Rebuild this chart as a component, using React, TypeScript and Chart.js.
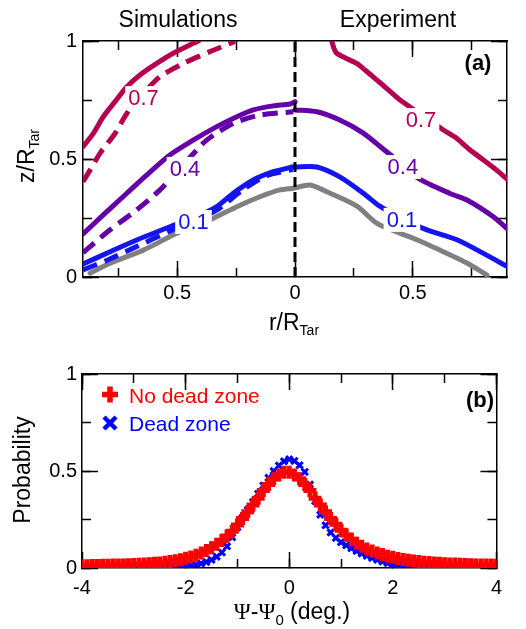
import React, { useEffect, useRef } from 'react';
import { Chart, registerables } from 'chart.js';

Chart.register(...registerables);

const FONT = '"Liberation Sans", Arial, Helvetica, sans-serif';
const SERIF = '"Liberation Serif", "Times New Roman", serif';

// ---------------- Panel (a): iso-contours, r/R_Tar (negative = simulations side) ----------------
type Pt = [number, number];

const sim07Solid: Pt[] = [[-0.9, 0.552], [-0.856, 0.609], [-0.814, 0.679], [-0.764, 0.743], [-0.714, 0.806], [-0.658, 0.856], [-0.587, 0.905], [-0.517, 0.948], [-0.432, 0.99], [-0.41, 1.0]];
const sim07Dashed: Pt[] = [[-0.9, 0.404], [-0.87, 0.453], [-0.828, 0.524], [-0.764, 0.608], [-0.714, 0.693], [-0.644, 0.778], [-0.573, 0.849], [-0.474, 0.905], [-0.361, 0.955], [-0.255, 0.998]];
const sim04Solid: Pt[] = [[-0.9, 0.182], [-0.814, 0.263], [-0.714, 0.355], [-0.63, 0.432], [-0.531, 0.517], [-0.432, 0.58], [-0.332, 0.637], [-0.247, 0.679], [-0.177, 0.708], [-0.092, 0.725], [-0.021, 0.733], [0, 0.743]];
const sim04Dashed: Pt[] = [[-0.9, 0.103], [-0.785, 0.2], [-0.672, 0.284], [-0.573, 0.369], [-0.47, 0.48], [-0.375, 0.58], [-0.262, 0.651], [-0.149, 0.686], [-0.007, 0.7]];
const sim01Solid: Pt[] = [[-0.9, 0.055], [-0.785, 0.107], [-0.672, 0.157], [-0.531, 0.213], [-0.42, 0.255], [-0.332, 0.298], [-0.262, 0.355], [-0.177, 0.411], [-0.092, 0.446], [-0.007, 0.467]];
const sim01Dashed: Pt[] = [[-0.9, 0.03], [-0.8, 0.07], [-0.67, 0.13], [-0.53, 0.195], [-0.4, 0.25], [-0.33, 0.285], [-0.22, 0.37], [-0.12, 0.43], [-0.01, 0.455]];
const simBase: Pt[] = [[-0.87, 0.016], [-0.785, 0.058], [-0.644, 0.114], [-0.502, 0.185], [-0.361, 0.242], [-0.247, 0.298], [-0.149, 0.34], [-0.064, 0.369], [-0.007, 0.376]];

const exp07: Pt[] = [[0.156, 1.0], [0.165, 0.97], [0.177, 0.948], [0.22, 0.925], [0.262, 0.905], [0.3, 0.875], [0.347, 0.835], [0.4, 0.79], [0.446, 0.75], [0.54, 0.685], [0.63, 0.623], [0.686, 0.588], [0.743, 0.538], [0.8, 0.496], [0.856, 0.453], [0.9, 0.415]];
const exp04: Pt[] = [[0.0, 0.708], [0.093, 0.7], [0.19, 0.665], [0.29, 0.61], [0.365, 0.55], [0.44, 0.49], [0.524, 0.418], [0.658, 0.354], [0.73, 0.326], [0.842, 0.255], [0.9, 0.205]];
const exp01: Pt[] = [[0.0, 0.466], [0.093, 0.466], [0.19, 0.424], [0.29, 0.355], [0.36, 0.3], [0.46, 0.245], [0.56, 0.2], [0.69, 0.157], [0.8, 0.1], [0.9, 0.045]];
const expBase: Pt[] = [[0.0, 0.378], [0.064, 0.39], [0.149, 0.355], [0.263, 0.3], [0.348, 0.227], [0.445, 0.186], [0.52, 0.157], [0.615, 0.114], [0.73, 0.059], [0.815, 0.008]];

const centerLine: Pt[] = [[0, 0], [0, 1]];

const levelTexts = ['0.7', '0.4', '0.1', '0.7', '0.4', '0.1'];
const levelAnchorR = [-0.643, -0.467, -0.431, 0.535, 0.458, 0.454];
const levelAnchorZ = [0.758, 0.458, 0.233, 0.665, 0.466, 0.242];

// ---------------- Panel (b): probability distributions ----------------
const psi = [
  -4.0, -3.9, -3.8, -3.7, -3.6, -3.5, -3.4, -3.3, -3.2, -3.1,
  -3.0, -2.9, -2.8, -2.7, -2.6, -2.5, -2.4, -2.3, -2.2, -2.1,
  -2.0, -1.9, -1.8, -1.7, -1.6, -1.5, -1.4, -1.3, -1.2, -1.1,
  -1.0, -0.9, -0.8, -0.7, -0.6, -0.5, -0.4, -0.3, -0.2, -0.1,
  0.0, 0.1, 0.2, 0.3, 0.4, 0.5, 0.6, 0.7, 0.8, 0.9,
  1.0, 1.1, 1.2, 1.3, 1.4, 1.5, 1.6, 1.7, 1.8, 1.9,
  2.0, 2.1, 2.2, 2.3, 2.4, 2.5, 2.6, 2.7, 2.8, 2.9,
  3.0, 3.1, 3.2, 3.3, 3.4, 3.5, 3.6, 3.7, 3.8, 3.9, 4.0,
];
const noDeadZone = [
  0.012, 0.012, 0.013, 0.013, 0.014, 0.014, 0.015, 0.015, 0.016, 0.017,
  0.018, 0.019, 0.020, 0.022, 0.024, 0.026, 0.029, 0.033, 0.038, 0.043,
  0.050, 0.057, 0.066, 0.077, 0.090, 0.105, 0.122, 0.142, 0.165, 0.190,
  0.222, 0.255, 0.290, 0.325, 0.360, 0.400, 0.430, 0.460, 0.480, 0.494,
  0.494, 0.480, 0.460, 0.430, 0.400, 0.360, 0.325, 0.290, 0.255, 0.225,
  0.195, 0.170, 0.148, 0.128, 0.112, 0.098, 0.087, 0.077, 0.069, 0.061,
  0.055, 0.049, 0.044, 0.040, 0.036, 0.033, 0.030, 0.028, 0.026, 0.024,
  0.022, 0.021, 0.020, 0.019, 0.018, 0.017, 0.016, 0.016, 0.015, 0.015, 0.014,
];
const deadZone = [
  0, 0, 0, 0, 0, 0, 0, 0, 0, 0,
  0, 0, 0, 0, 0, 0, 0, 0.001, 0.003, 0.005,
  0.008, 0.012, 0.017, 0.023, 0.031, 0.042, 0.058, 0.080, 0.112, 0.158,
  0.210, 0.260, 0.300, 0.340, 0.383, 0.425, 0.465, 0.500, 0.528, 0.550,
  0.560, 0.552, 0.530, 0.495, 0.430, 0.345, 0.275, 0.220, 0.183, 0.155,
  0.133, 0.117, 0.102, 0.088, 0.075, 0.063, 0.052, 0.042, 0.033, 0.025,
  0.018, 0.012, 0.007, 0.003, 0, 0, 0, 0, 0, 0,
  0, 0, 0, 0, 0, 0, 0, 0, 0, 0, 0,
];
const legendTexts = ['No dead zone', 'Dead zone'];

const C07 = '#b5004f';
const C04 = '#6400a6';
const C01 = '#1414ee';
const CBASE = '#808080';
const RED = '#ff0000';
const BLUE = '#0000ff';

type Seg = { t: string; font: string; dy?: number };
function drawSegs(ctx: CanvasRenderingContext2D, segs: Seg[], x: number, y: number, rotate: boolean, color = '#000') {
  ctx.save();
  ctx.translate(x, y);
  if (rotate) ctx.rotate(-Math.PI / 2);
  let total = 0;
  for (const s of segs) {
    ctx.font = s.font;
    total += ctx.measureText(s.t).width;
  }
  let cx = -total / 2;
  ctx.textAlign = 'left';
  ctx.textBaseline = 'alphabetic';
  ctx.fillStyle = color;
  for (const s of segs) {
    ctx.font = s.font;
    ctx.fillText(s.t, cx, s.dy || 0);
    cx += ctx.measureText(s.t).width;
  }
  ctx.restore();
}

// main axes carry labels and own the outer space; minor axes are zero-sized, sitting on the frame
function makeAxes(xMin: number, xMax: number, xMajor: number, xMinor: number, xFmt: (v: number) => string,
  yMin: number, yMax: number, yMajor: number, yMinor: number, yFmt: (v: number) => string,
  xPad: number, yPad: number, xBoxH: number, yBoxW: number) {
  const base = (pos: string, min: number, max: number, step: number, len: number, main: boolean,
    fmt: ((v: number) => string) | null, pad: number, size: number) => ({
    type: 'linear',
    position: pos,
    min,
    max,
    weight: size > 0 ? 1 : 0,
    afterFit: (s: any) => {
      if (pos === 'left' || pos === 'right') s.width = size;
      else s.height = size;
    },
    border: { display: main, color: '#000', width: 1.5 },
    grid: { display: true, drawOnChartArea: false, drawTicks: true, tickLength: -len, tickWidth: 1.5, tickColor: '#000' },
    ticks: {
      display: !!fmt,
      stepSize: step,
      includeBounds: false,
      autoSkip: false,
      maxRotation: 0,
      minRotation: 0,
      color: '#000',
      font: { family: FONT, size: 20 },
      padding: pad,
      callback: (v: any) => (fmt ? fmt(Number(v)) : ''),
    },
  });
  return {
    x: base('bottom', xMin, xMax, xMajor, 16, true, xFmt, xPad, xBoxH),
    xMinor: base('bottom', xMin, xMax, xMinor, 9, false, null, 0, 0),
    xTop: base('top', xMin, xMax, xMajor, 16, true, null, 0, 0),
    xTopMinor: base('top', xMin, xMax, xMinor, 9, false, null, 0, 0),
    y: base('left', yMin, yMax, yMajor, 16, true, yFmt, yPad, yBoxW),
    yMinor: base('left', yMin, yMax, yMinor, 9, false, null, 0, 0),
    yRight: base('right', yMin, yMax, yMajor, 16, true, null, 0, 0),
    yRightMinor: base('right', yMin, yMax, yMinor, 9, false, null, 0, 0),
  };
}

const fmtNum = (v: number) => {
  const r = Math.round(v * 100) / 100;
  return String(r);
};

export default function App() {
  const refA = useRef<HTMLCanvasElement>(null);
  const refB = useRef<HTMLCanvasElement>(null);

  useEffect(() => {
    const toXY = (pts: Pt[]) => pts.map(([x, y]) => ({ x, y }));
    const line = (pts: Pt[], color: string, dashed: boolean, width = 5) => ({
      data: toXY(pts),
      showLine: true,
      borderColor: color,
      backgroundColor: color,
      borderWidth: width,
      pointRadius: 0,
      pointHoverRadius: 0,
      borderDash: dashed ? [15, 8] : [],
      tension: 0.25,
      borderCapStyle: dashed ? 'butt' : 'round',
      borderJoinStyle: 'round',
      fill: false,
    });

    const pluginA = {
      id: 'panelA',
      afterDatasetsDraw(chart: any) {
        const ctx: CanvasRenderingContext2D = chart.ctx;
        const xs = chart.scales.x;
        const ys = chart.scales.y;
        const colors = [C07, C04, C01, C07, C04, C01];
        ctx.save();
        ctx.font = `22px ${FONT}`;
        for (let i = 0; i < levelTexts.length; i++) {
          const px = xs.getPixelForValue(levelAnchorR[i]);
          const py = ys.getPixelForValue(levelAnchorZ[i]);
          const w = ctx.measureText(levelTexts[i]).width;
          ctx.fillStyle = '#fff';
          ctx.fillRect(px - w / 2 - 3, py - 12, w + 6, 24);
          ctx.fillStyle = colors[i];
          ctx.textAlign = 'center';
          ctx.textBaseline = 'middle';
          ctx.fillText(levelTexts[i], px, py + 1);
        }
        ctx.restore();
      },
      afterDraw(chart: any) {
        const ctx: CanvasRenderingContext2D = chart.ctx;
        const f23 = `23px ${FONT}`;
        const f14 = `14px ${FONT}`;
        drawSegs(ctx, [{ t: 'Simulations', font: f23 }], 178, 27, false);
        drawSegs(ctx, [{ t: 'Experiment', font: f23 }], 398, 27, false);
        drawSegs(ctx, [{ t: 'r/R', font: f23 }, { t: 'Tar', font: f14, dy: 5 }], 294, 330, false);
        drawSegs(ctx, [{ t: 'z/R', font: f23 }, { t: 'Tar', font: f14, dy: 5 }], 34, 156, true);
        ctx.save();
        ctx.font = `bold 22px ${FONT}`;
        ctx.fillStyle = '#000';
        ctx.textAlign = 'center';
        ctx.textBaseline = 'middle';
        ctx.fillText('(a)', 478, 64);
        ctx.restore();
      },
    };

    const chartA = new Chart(refA.current as HTMLCanvasElement, {
      type: 'scatter',
      data: {
        datasets: [
          { ...line(centerLine, '#000', false, 3), borderDash: [10, 5], borderCapStyle: 'butt', tension: 0 },
          line(sim07Solid, C07, false),
          line(sim07Dashed, C07, true),
          line(sim04Solid, C04, false),
          line(sim04Dashed, C04, true),
          line(sim01Solid, C01, false),
          line(sim01Dashed, C01, true),
          line(simBase, CBASE, false),
          line(exp07, C07, false),
          line(exp04, C04, false),
          line(exp01, C01, false),
          line(expBase, CBASE, false),
        ] as any,
      },
      options: {
        responsive: false,
        animation: false,
        devicePixelRatio: 1,
        layout: { padding: { left: 0, right: 19, top: 41, bottom: 0 } },
        plugins: { legend: { display: false }, tooltip: { enabled: false }, title: { display: false } },
        events: [],
        scales: makeAxes(-0.9, 0.9, 0.5, 0.25, (v) => fmtNum(Math.abs(v)), 0, 1, 0.5, 0.25, fmtNum, 20, 22, 63, 83) as any,
      },
      plugins: [pluginA as any],
    });

    const pluginB = {
      id: 'panelB',
      afterDraw(chart: any) {
        const ctx: CanvasRenderingContext2D = chart.ctx;
        const f23 = `23px ${FONT}`;
        drawSegs(ctx, [
          { t: 'Ψ', font: `23px ${SERIF}` },
          { t: '-', font: f23 },
          { t: 'Ψ', font: `23px ${SERIF}` },
          { t: '0', font: `15px ${FONT}`, dy: 6 },
          { t: ' (deg.)', font: f23 },
        ], 292, 279, false);
        drawSegs(ctx, [{ t: 'Probability', font: f23 }], 30, 130, true);
        ctx.save();
        // legend
        ctx.lineCap = 'butt';
        ctx.strokeStyle = RED;
        ctx.lineWidth = 5.5;
        ctx.beginPath();
        ctx.moveTo(102, 54.5); ctx.lineTo(118, 54.5);
        ctx.moveTo(110, 46.5); ctx.lineTo(110, 62.5);
        ctx.stroke();
        ctx.strokeStyle = BLUE;
        ctx.lineWidth = 4.5;
        ctx.beginPath();
        ctx.moveTo(104, 77); ctx.lineTo(116, 89);
        ctx.moveTo(116, 77); ctx.lineTo(104, 89);
        ctx.stroke();
        ctx.font = `21px ${FONT}`;
        ctx.textAlign = 'left';
        ctx.textBaseline = 'alphabetic';
        ctx.fillStyle = RED;
        ctx.fillText(legendTexts[0], 129, 62.5);
        ctx.fillStyle = BLUE;
        ctx.fillText(legendTexts[1], 129, 90.5);
        ctx.font = `bold 22px ${FONT}`;
        ctx.fillStyle = '#000';
        ctx.textAlign = 'center';
        ctx.textBaseline = 'middle';
        ctx.fillText('(b)', 480, 61);
        ctx.restore();
      },
    };

    const chartB = new Chart(refB.current as HTMLCanvasElement, {
      type: 'scatter',
      data: {
        datasets: [
          {
            label: legendTexts[0],
            data: psi.map((x, i) => ({ x, y: noDeadZone[i] })),
            pointStyle: 'cross',
            pointRadius: 6.5,
            pointHoverRadius: 6.5,
            pointBorderWidth: 5,
            borderWidth: 5,
            pointBorderColor: RED,
            pointBackgroundColor: RED,
            borderColor: RED,
            backgroundColor: RED,
            showLine: false,
          },
          {
            label: legendTexts[1],
            data: psi.map((x, i) => ({ x, y: deadZone[i] })),
            pointStyle: 'crossRot',
            pointRadius: 4.5,
            pointHoverRadius: 4.5,
            pointBorderWidth: 3,
            borderWidth: 3,
            pointBorderColor: BLUE,
            pointBackgroundColor: BLUE,
            borderColor: BLUE,
            backgroundColor: BLUE,
            showLine: false,
          },
        ] as any,
      },
      options: {
        responsive: false,
        animation: false,
        devicePixelRatio: 1,
        layout: { padding: { left: 0, right: 20, top: 34, bottom: 0 } },
        plugins: { legend: { display: false }, tooltip: { enabled: false }, title: { display: false } },
        events: [],
        scales: makeAxes(-4, 4, 2, 1, fmtNum, 0, 1, 0.5, 0.25, fmtNum, 24, 21, 61, 82) as any,
      },
      plugins: [pluginB as any],
    });

    return () => {
      chartA.destroy();
      chartB.destroy();
    };
  }, []);

  return (
    <div style={{ position: 'absolute', left: 0, top: 0, width: 526, height: 629, background: '#fff' }}>
      <canvas ref={refA} width={526} height={340} style={{ position: 'absolute', left: 0, top: 0, display: 'block' }} />
      <canvas ref={refB} width={526} height={289} style={{ position: 'absolute', left: 0, top: 340, display: 'block' }} />
    </div>
  );
}
